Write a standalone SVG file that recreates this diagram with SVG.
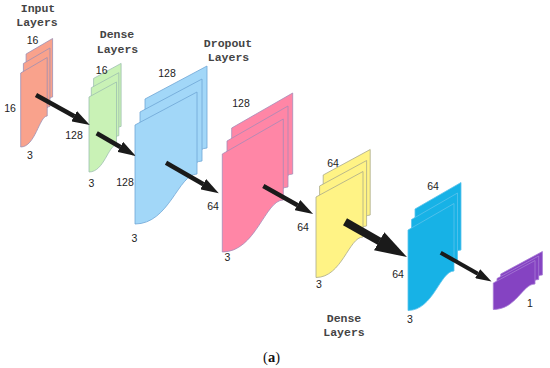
<svg xmlns="http://www.w3.org/2000/svg" xmlns:xlink="http://www.w3.org/1999/xlink" width="550" height="368" viewBox="0 0 550 368">
<style>
.num{font-family:"Liberation Sans",Arial,sans-serif;font-size:10.5px;fill:#222;text-anchor:middle}
.title{font-family:"Liberation Mono","Courier New",monospace;font-size:11.5px;font-weight:bold;fill:#444;text-anchor:middle}
.cap{font-family:"Liberation Serif","Times New Roman",serif;font-size:14.5px;fill:#111;text-anchor:middle}
.arrow{stroke:#1a1a1a;fill:none;stroke-linecap:butt}
</style>
<defs>
<marker id="ah" viewBox="0 0 4 2.6" markerWidth="4" markerHeight="2.6" markerUnits="strokeWidth" refX="0.05" refY="1.3" orient="auto">
<path d="M0,0 L4,1.3 L0,2.6 Z" fill="#1a1a1a"/>
</marker>
<path id="s-in" d="M20.7,73 L47.2,57.5 L47.2,116 C39.3,116 35.3,147 20.7,147 Z"/>
<path id="s-d1" d="M89,97 L116.5,82 L116.5,145 C108.3,145 104.1,172 89,172 Z"/>
<path id="s-dr1" d="M135,125 L197,92 L197,174 C178.4,174 169.1,224 135,224 Z"/>
<path id="s-dr2" d="M222.3,154 L283.3,119 L283.3,200 C265,200 255.9,252 222.3,252 Z"/>
<path id="s-d2" d="M316,197 L363,171.5 L363,237 C348.9,237 341.9,277.5 316,277.5 Z"/>
<path id="s-d3" d="M408,230 L454,203.5 L454,271 C440.2,271 433.3,310.5 408,310.5 Z"/>
<path id="s-out" d="M493.3,283 L535,260.5 L535,284 C522.5,284 516.2,309.5 493.3,309.5 Z"/>
</defs>
<rect width="550" height="368" fill="#fff"/>

<g id="input-layer" fill="#F9A28C" stroke="#9C8FB4" stroke-width="0.8">
<use xlink:href="#s-in" transform="translate(5.4,-19)"/>
<use xlink:href="#s-in" transform="translate(2.7,-9.5)"/>
<use xlink:href="#s-in"/>
</g>
<g id="dense-1" fill="#C9F2B6" stroke="#9DBFB0" stroke-width="0.8">
<use xlink:href="#s-d1" transform="translate(4.6,-18.6)"/>
<use xlink:href="#s-d1" transform="translate(2.3,-9.3)"/>
<use xlink:href="#s-d1"/>
</g>
<g id="dropout-1" fill="#A2D7F8" stroke="#6FA6D6" stroke-width="0.8">
<use xlink:href="#s-dr1" transform="translate(10,-26)"/>
<use xlink:href="#s-dr1" transform="translate(5,-13)"/>
<use xlink:href="#s-dr1"/>
</g>
<g id="dropout-2" fill="#FF86A6" stroke="#A68AB8" stroke-width="0.8">
<use xlink:href="#s-dr2" transform="translate(9.4,-26)"/>
<use xlink:href="#s-dr2" transform="translate(4.7,-13)"/>
<use xlink:href="#s-dr2"/>
</g>
<g id="dense-2" fill="#FFF385" stroke="#A9A98C" stroke-width="0.8">
<use xlink:href="#s-d2" transform="translate(7.2,-22)"/>
<use xlink:href="#s-d2" transform="translate(3.6,-11)"/>
<use xlink:href="#s-d2"/>
</g>
<g id="dense-3" fill="#17B2E6" stroke="#5CC3EC" stroke-width="0.8">
<use xlink:href="#s-d3" transform="translate(7,-21)"/>
<use xlink:href="#s-d3" transform="translate(3.5,-10.5)"/>
<use xlink:href="#s-d3"/>
</g>
<g id="output-layer" fill="#8543C2" stroke="#A77BD6" stroke-width="0.8">
<use xlink:href="#s-out" transform="translate(7.4,-9)"/>
<use xlink:href="#s-out" transform="translate(3.7,-4.5)"/>
<use xlink:href="#s-out"/>
</g>

<g id="connectors" class="arrow">
<path d="M36,95 L74.3,116.3" stroke-width="4.5" marker-end="url(#ah)"/>
<path d="M96.7,133.3 L120.4,147" stroke-width="4.5" marker-end="url(#ah)"/>
<path d="M166,162.7 L203.4,184.3" stroke-width="4.5" marker-end="url(#ah)"/>
<path d="M263.3,186 L297.6,205.2" stroke-width="4.5" marker-end="url(#ah)"/>
<path d="M345,221.7 L379.5,241.4" stroke-width="8" marker-end="url(#ah)"/>
<path d="M440.7,252.7 L477.8,273.8" stroke-width="4" marker-end="url(#ah)"/>
</g>

<g id="titles">
<text class="title" x="38" y="12">Input</text>
<text class="title" x="37" y="26">Layers</text>
<text class="title" x="117" y="38">Dense</text>
<text class="title" x="117.5" y="52.5">Layers</text>
<text class="title" x="228" y="47">Dropout</text>
<text class="title" x="228.5" y="61">Layers</text>
<text class="title" x="344" y="321.5">Dense</text>
<text class="title" x="344" y="336">Layers</text>
</g>

<g id="labels">
<text class="num" x="32.5" y="43.5">16</text>
<text class="num" x="10" y="111.5">16</text>
<text class="num" x="30" y="159">3</text>
<text class="num" x="101.7" y="73.5">16</text>
<text class="num" x="74" y="139.3">128</text>
<text class="num" x="91.5" y="186.5">3</text>
<text class="num" x="125" y="185.7">128</text>
<text class="num" x="167" y="77.3">128</text>
<text class="num" x="134.5" y="241.5">3</text>
<text class="num" x="213" y="210">64</text>
<text class="num" x="241" y="107.3">128</text>
<text class="num" x="227.5" y="260.5">3</text>
<text class="num" x="303" y="230.5">64</text>
<text class="num" x="333" y="166.7">64</text>
<text class="num" x="319" y="288.3">3</text>
<text class="num" x="433" y="190">64</text>
<text class="num" x="398" y="278.3">64</text>
<text class="num" x="410" y="323.3">3</text>
<text class="num" x="530" y="307.3">1</text>
</g>

<text class="cap" x="271.5" y="362">(<tspan font-weight="bold">a</tspan>)</text>
</svg>
